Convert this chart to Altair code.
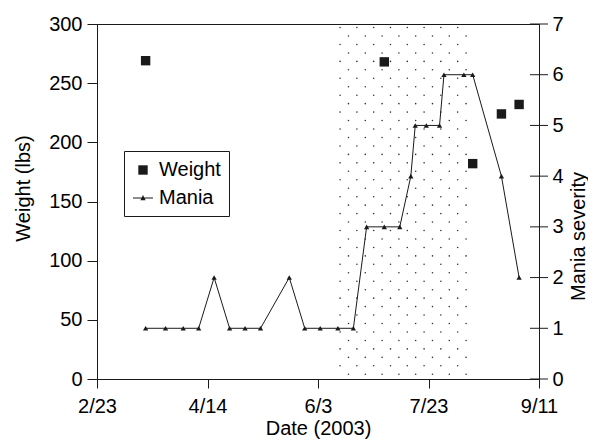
import altair as alt
import numpy as np
import pandas as pd

YEAR = 2003
START = "2/23"

x_tick_labels = ["2/23", "4/14", "6/3", "7/23", "9/11"]
weight_ticks = [0, 50, 100, 150, 200, 250, 300]
mania_ticks = [0, 1, 2, 3, 4, 5, 6, 7]

weight_dates = ["3/17", "7/3", "8/12", "8/25", "9/2"]
weight_values = [269, 268, 182, 224, 232]

mania_dates = ["3/17", "3/26", "4/3", "4/10", "4/17", "4/24", "5/1", "5/8",
               "5/21", "5/28", "6/4", "6/12", "6/19", "6/25", "7/3", "7/10",
               "7/15", "7/17", "7/22", "7/28", "7/30", "8/8", "8/12", "8/25", "9/2"]
mania_values = [1, 1, 1, 1, 2, 1, 1, 1, 2, 1, 1, 1, 1, 3, 3, 3, 4, 5, 5, 5, 6, 6, 6, 4, 2]

shade_start = "6/13"
shade_end = "8/9"

series_names = ["Weight", "Mania"]

FONT = "Liberation Sans"
FS = 20
INK = "#1a1a1a"


def day(md):
    m, d = (int(v) for v in md.split("/"))
    sm, sd = (int(v) for v in START.split("/"))
    return (pd.Timestamp(YEAR, m, d) - pd.Timestamp(YEAR, sm, sd)).days


x_tick_days = [day(s) for s in x_tick_labels]
x_max = x_tick_days[-1]

weight_df = pd.DataFrame({"day": [day(s) for s in weight_dates],
                          "w": weight_values,
                          "series": "Weight"})
mania_df = pd.DataFrame({"day": [day(s) for s in mania_dates], "m": mania_values})
tick_df = pd.DataFrame({"day": x_max, "m": mania_ticks})

# dotted texture for the shaded period (staggered grid)
s0, s1 = day(shade_start), day(shade_end)
n_cols = 16
col_days = np.linspace(s0, s1, n_cols)
row_vals = np.linspace(297, 4, 42)
dots = [(col_days[k], yv) for i, yv in enumerate(row_vals) for k in range(i % 2, n_cols, 2)]
dots_df = pd.DataFrame(dots, columns=["day", "w"])

label_expr = ("[" + ",".join(f"'{l}'" for l in x_tick_labels) + "][indexof(["
              + ",".join(str(d) for d in x_tick_days) + "], datum.value)]")

x_enc = alt.X("day:Q",
              scale=alt.Scale(domain=[0, x_max], nice=False, zero=False),
              axis=alt.Axis(values=x_tick_days, labelExpr=label_expr, title="Date (2003)",
                            grid=False, tickSize=9, labelPadding=8, labelFlush=False,
                            labelOverlap=False, titleX=221, titleY=55, titleAlign="center",
                            titleBaseline="alphabetic"))

w_scale = alt.Scale(domain=[0, 300], nice=False, zero=False)
w_axis = alt.Axis(values=weight_ticks, title="Weight (lbs)", grid=False, tickSize=10,
                  labelPadding=5, titleX=-74, titleY=164, titleAngle=270,
                  titleAlign="center", titleBaseline="middle")
m_scale = alt.Scale(domain=[0, 7], nice=False, zero=False)
m_axis = alt.Axis(orient="right", values=mania_ticks, title="Mania severity", grid=False,
                  ticks=False, labelPadding=13, titleX=45, titleY=212, titleAngle=270,
                  titleAlign="center", titleBaseline="alphabetic")

sq_path = "M-0.47,-0.47H0.47V0.47H-0.47Z"
mania_path = "M-1,-0.05H1V0.05H-1Z M-0.26,0.22L0,-0.3L0.26,0.22Z"

dots_layer = alt.Chart(dots_df).mark_circle(size=2.5, color="#333", opacity=1).encode(
    x=x_enc, y=alt.Y("w:Q", scale=w_scale, axis=w_axis))

weight_layer = alt.Chart(weight_df).mark_point(
    filled=True, size=400, color=INK, opacity=1).encode(
    x=x_enc,
    y=alt.Y("w:Q", scale=w_scale, axis=w_axis),
    shape=alt.Shape("series:N",
                    scale=alt.Scale(domain=series_names, range=[sq_path, mania_path]),
                    legend=alt.Legend(title=None, orient="none", legendX=27, legendY=127,
                                      symbolSize=400, symbolFillColor=INK,
                                      labelOffset=5, padding=8, rowPadding=7,
                                      strokeColor=INK, fillColor="white",
                                      labelFont=FONT, labelFontSize=FS, labelColor="black")))

mania_line = alt.Chart(mania_df).mark_line(color=INK, strokeWidth=1).encode(
    x=x_enc, y=alt.Y("m:Q", scale=m_scale, axis=m_axis))
mania_pts = alt.Chart(mania_df).mark_point(
    shape="triangle-up", filled=True, size=28, color=INK, opacity=1).encode(
    x=x_enc, y=alt.Y("m:Q", scale=m_scale, axis=m_axis))
mania_tick_layer = alt.Chart(tick_df).mark_tick(
    orient="horizontal", size=18, thickness=1, color=INK, opacity=1).encode(
    x=x_enc, y=alt.Y("m:Q", scale=m_scale, axis=m_axis))

weight_group = alt.layer(dots_layer, weight_layer)
mania_group = alt.layer(mania_line, mania_pts, mania_tick_layer)

chart = alt.layer(weight_group, mania_group).resolve_scale(
    y="independent", shape="independent"
).properties(
    width=442, height=355,
    autosize=alt.AutoSizeParams(type="none"),
    padding={"left": 89, "top": 16, "right": 49, "bottom": 60},
).configure_view(
    stroke=INK, strokeWidth=1
).configure_axis(
    labelFont=FONT, labelFontSize=FS, labelColor="black",
    titleFont=FONT, titleFontSize=FS, titleColor="black", titleFontWeight="normal",
    domainColor=INK, tickColor=INK, domainWidth=1, tickWidth=1
)

chart.save("out.html", embed_options={"renderer": "svg", "actions": False})
